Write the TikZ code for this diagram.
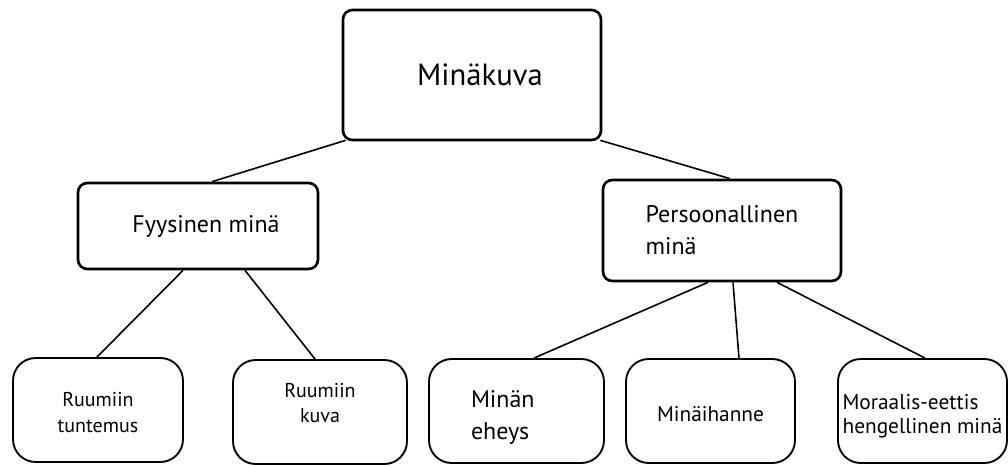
\documentclass[tikz,border=0pt]{standalone}
\usepackage{fontspec}
\setmainfont{PT Sans}
\usetikzlibrary{positioning,calc}
% lines of a leaf, moved up or down inside their box
\newcommand{\shifted}[3]{\raisebox{#1}[\height][\depth]{\begin{tabular}{@{}#2@{}}#3\end{tabular}}}

\begin{document}
\begin{tikzpicture}[x=0.75pt,y=-0.75pt,
    box/.style={draw,line width=2pt,rounded corners=7pt,inner sep=0pt},
    leaf/.style={draw,line width=1.4pt,rounded corners=17pt,inner sep=0pt,
      minimum height=78pt},
    link/.style={line width=1.2pt}]
   \useasboundingbox (0,0) rectangle (1008,465);
   % top level
   \node[box,minimum width=193.5pt,minimum height=97.5pt,
     font=\fontsize{23}{28}\selectfont] (kuva) at (472,75) {\hspace*{12pt}Minäkuva};
   % second level
   \node[box,minimum width=180pt,minimum height=64.5pt,
     font=\fontsize{18}{24}\selectfont] (fyys) at (198,226) {\hspace*{12pt}Fyysinen minä};
   \node[box,minimum width=178.5pt,minimum height=75.75pt,align=left,
     font=\fontsize{18}{24}\selectfont] (pers) at (722,230.5) {Persoonallinen\\minä};
   % leaves
   \node[leaf,minimum width=127.5pt,font=\fontsize{15}{19}\selectfont]
     (tunt) at (98,410) {\shifted{-3.4pt}{c}{Ruumiin\\tuntemus}};
   \node[leaf,minimum width=130.5pt,font=\fontsize{15}{19}\selectfont]
     (kuv) at (320,412) {\shifted{5.2pt}{c}{Ruumiin\\kuva}};
   \node[leaf,minimum width=131.25pt,align=left,inner xsep=31.5pt,text width=68.25pt,
     font=\fontsize{18}{24}\selectfont] (eheys) at (516.5,411) {\shifted{-4.5pt}{l}{Minän\\eheys}};
   \node[leaf,minimum width=126.75pt,font=\fontsize{16}{20}\selectfont]
     (ihanne) at (710.5,411) {\shifted{-3.7pt}{c}{Minäihanne}};
   \node[leaf,minimum width=126.75pt,font=\fontsize{16}{18}\selectfont]
     (moraal) at (922.5,411) {\shifted{-4.5pt}{l}{Moraalis-eettis\\hengellinen minä}};
   % connectors
   \draw[link] ($(kuva.south west)+(4,-1)$) -- ($(fyys.north)+(14,0)$);
   \draw[link] ($(kuva.south east)+(-2,-1)$) -- ($(pers.north)+(8,0)$);
   \draw[link] ($(fyys.south)+(-15,0)$) -- ($(tunt.north)+(-1,0)$);
   \draw[link] ($(fyys.south)+(47,0)$) -- ($(kuv.north)+(-5,0)$);
   \draw[link] ($(pers.south)+(-14,0)$) -- ($(eheys.north)+(17.5,0)$);
   \draw[link] ($(pers.south)+(11,0)$) -- ($(ihanne.north)+(28.5,0)$);
   \draw[link] ($(pers.south)+(55,0)$) -- ($(moraal.north)+(2.5,0)$);
\end{tikzpicture}
\end{document}
